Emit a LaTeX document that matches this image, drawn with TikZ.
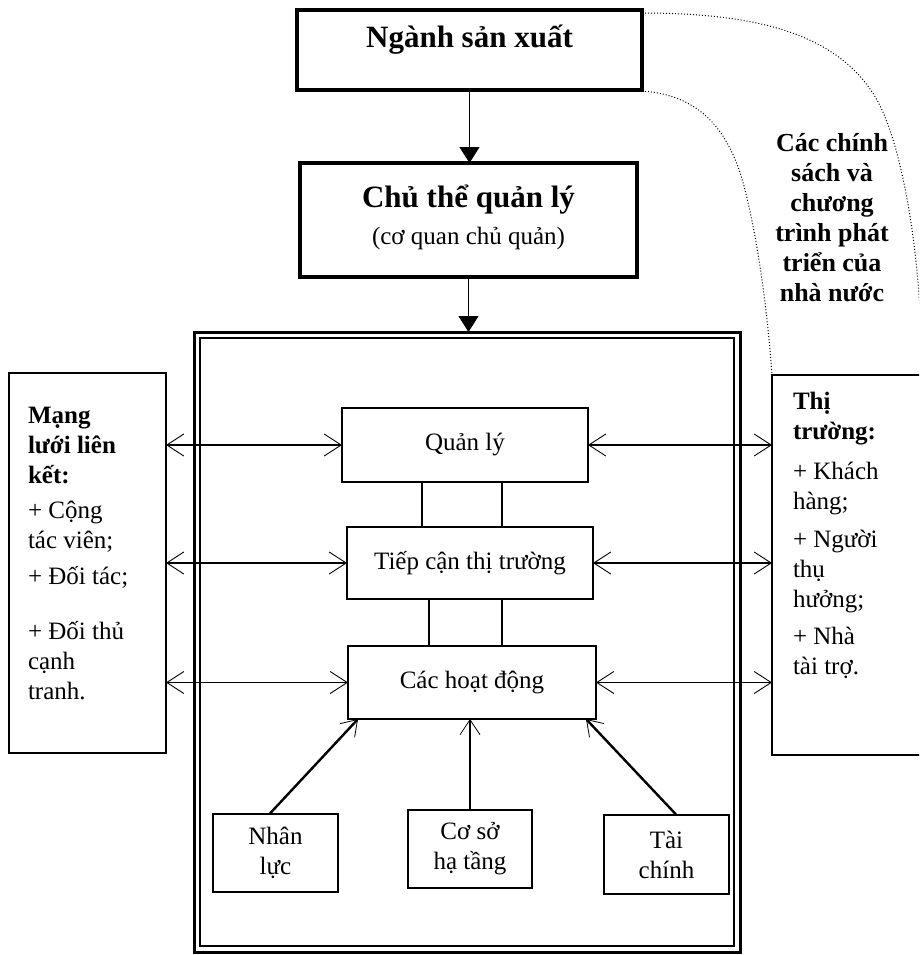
\documentclass[tikz,border=0pt]{standalone}
\usepackage{fontspec}
\setmainfont{Liberation Serif}
\usetikzlibrary{arrows.meta}
\begin{document}
\begin{tikzpicture}[x=1pt,y=-1pt,
  every node/.style={inner sep=0pt, outer sep=0pt},
  topbox/.style={draw, line width=3.5pt, rectangle},
  inbox/.style={draw, line width=1.3pt, rectangle, font=\fontsize{25}{30}\selectfont, align=center},
  sidebox/.style={draw, line width=1.5pt, rectangle},
  bigtxt/.style={font=\fontsize{31}{36}\selectfont\bfseries},
  midtxt/.style={font=\fontsize{25}{30}\selectfont},
  sidetxt/.style={font=\fontsize{25}{30}\selectfont, align=left},
  down/.style={line width=1.2pt, -{Triangle[length=16pt,width=20pt]}},
  both/.style={line width=1.3pt, {Straight Barb[length=17pt,width=22pt,line width=0.9pt]}-{Straight Barb[length=17pt,width=22pt,line width=0.9pt]}},
  feed/.style={line width=2.4pt, -{Straight Barb[length=15pt,width=20pt,line width=0.8pt]}},
  link/.style={line width=1.3pt},
  policy/.style={dotted, line width=1pt}
]
\useasboundingbox (0,0) rectangle (919,955);
\fill[white] (0,0) rectangle (919,955);
\clip (0,0) rectangle (919,955);

% top boxes
\node[topbox, minimum width=345pt, minimum height=80pt] (ns) at (469.5,50) {};
\node[bigtxt] (nst) at (469.5,40) {Ngành sản xuất};
\node[topbox, minimum width=337pt, minimum height=114pt] (ct) at (468.5,220) {};
\node[bigtxt] (ctt) at (468.5,200) {Chủ thể quản lý};
\node[midtxt] (cts) at (468.5,238) {(cơ quan chủ quản)};

% frame
\node[draw, line width=3pt, minimum width=546pt, minimum height=620pt] (frame) at (467,642) {};
\draw[line width=1.6pt] ([shift={(6,6)}]frame.north west) rectangle ([shift={(-6,-6)}]frame.south east);

\draw[down] (ns.south) -- (ns.south |- ct.north);
\draw[down] (ct.south) -- (ct.south |- frame.north);

% inner boxes
\node[inbox, minimum width=246pt, minimum height=74pt] (ql) at (465,445) {Quản lý};
\node[inbox, minimum width=246pt, minimum height=72pt] (tc) at (470,563) {Tiếp cận thị trường};
\node[inbox, minimum width=248pt, minimum height=73pt] (hd) at (472,682.5) {Các hoạt động};
\node[inbox, minimum width=125pt, minimum height=78pt] (nl) at (275.5,853) {Nhân\\lực};
\node[inbox, minimum width=124pt, minimum height=78pt] (cs) at (470,849) {Cơ sở\\hạ tầng};
\node[inbox, minimum width=125pt, minimum height=79pt] (tch) at (666.5,854.5) {Tài\\chính};

% side boxes
\node[sidebox, minimum width=157pt, minimum height=380pt] (lb) at (87.5,563) {};
\node[sidebox, minimum width=160pt, minimum height=380pt] (rb) at (852,565) {};

\node[sidetxt, anchor=north west] (lbt) at (28,407) {\textbf{Mạng}\\\textbf{lưới liên}\\\textbf{kết:}\\[5pt]+ Cộng\\tác viên;\\[6pt]+ Đối tác;\\[25pt]+ Đối thủ\\cạnh\\tranh.};
\node[sidetxt, anchor=north west] (rbt) at (793,392) {\textbf{Thị}\\\textbf{trường:}\\[10pt]+ Khách\\hàng;\\[8pt]+ Người\\thụ\\hưởng;\\[7pt]+ Nhà\\tài trợ.};

\node[font=\fontsize{26}{30}\selectfont\bfseries, align=center] (pol) at (832,218) {Các chính\\sách và\\chương\\trình phát\\triển của\\nhà nước};

% two-way arrows
\draw[both] (lb.east |- ql.west) -- (ql.west);
\draw[both] (lb.east |- tc.west) -- (tc.west);
\draw[both] (lb.east |- hd.west) -- (hd.west);
\draw[both] (ql.east) -- (rb.west |- ql.east);
\draw[both] (tc.east) -- (rb.west |- tc.east);
\draw[both] (hd.east) -- (rb.west |- hd.east);

% links
\draw[link] ([xshift=-43pt]ql.south) -- ([xshift=-43pt]ql.south |- tc.north);
\draw[link] ([xshift=37pt]ql.south) -- ([xshift=37pt]ql.south |- tc.north);
\draw[link] ([xshift=-41pt]tc.south) -- ([xshift=-41pt]tc.south |- hd.north);
\draw[link] ([xshift=32pt]tc.south) -- ([xshift=32pt]tc.south |- hd.north);

% feeds
\draw[feed] ([xshift=-6pt]nl.north) -- ([xshift=10pt]hd.south west);
\draw[feed] (cs.north) -- (cs.north |- hd.south);
\draw[feed] ([xshift=10pt]tch.north) -- ([xshift=-10pt]hd.south east);

% policy curves
\coordinate (pe) at (921,330);
\draw[policy] ([yshift=-3pt]ns.north east) .. controls (760,13) and (840,35) .. (877,100) .. controls (899,139) and (917,230) .. (pe);
\draw[policy] ([yshift=-1pt]ns.south east) .. controls (700,95) and (730,130) .. (745,190) .. controls (760,250) and (768,320) .. (rb.north west);
\end{tikzpicture}
\end{document}
